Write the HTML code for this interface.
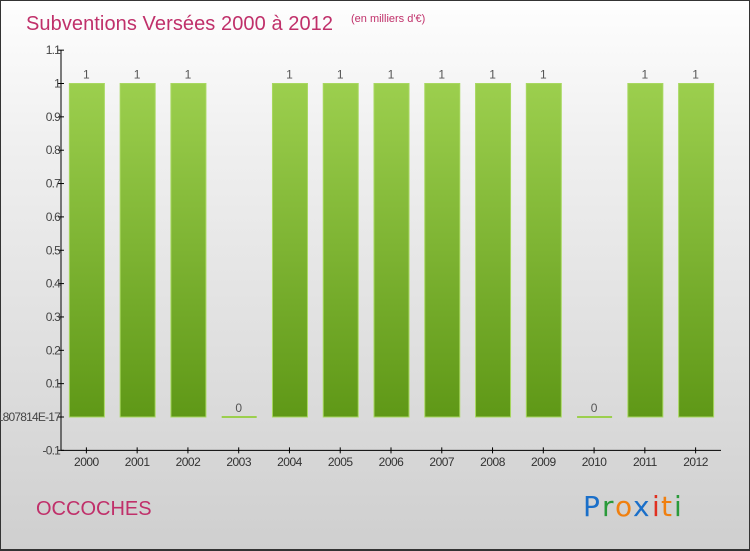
<!DOCTYPE html>
<html><head><meta charset="utf-8"><style>
body{margin:0;width:750px;height:550px;overflow:hidden;font-family:"Liberation Sans",sans-serif}
#c{position:absolute;left:0;top:0;width:748px;height:548px;border:1px solid #333;border-right:2px solid #333;border-bottom:2px solid #333;background:linear-gradient(#fefefe,#f0f0f0 25%,#d8d8d8 80%,#cfcfcf)}
</style></head><body>
<div id="c"></div>
<svg id="s" width="750" height="550" style="position:absolute;left:0;top:0">
<defs><linearGradient id="g" x1="0" y1="0" x2="0" y2="1"><stop offset="0" stop-color="#9ccf4e"/><stop offset="1" stop-color="#5f9817"/></linearGradient></defs>
<text x="26" y="30" font-size="20" fill="#c0306a" textLength="307">Subventions Versées 2000 à 2012</text>
<text x="351" y="22" font-size="11" fill="#c0306a">(en milliers d'€)</text>
<text x="36" y="515" font-size="20" fill="#c0306a">OCCOCHES</text>
<g font-size="28" font-family="'DejaVu Sans',sans-serif">
<text x="583" y="516" fill="#1a6fc9">P</text><text x="602" y="516" fill="#2a9a3a">r</text><text x="615" y="516" fill="#f08010">o</text><text x="633" y="516" fill="#1a6fc9">x</text><text x="652" y="516" fill="#e03020">i</text><text x="661" y="516" fill="#f08010">t</text><text x="674" y="516" fill="#2a9a3a">i</text></g>
<g id="ax"></g><g id="bars"></g>
</svg>
<script>
const years=["2000","2001","2002","2003","2004","2005","2006","2007","2008","2009","2010","2011","2012"];
const values=[1,1,1,0,1,1,1,1,1,1,0,1,1];
const yTicks=[-0.1,0,0.1,0.2,0.3,0.4,0.5,0.6,0.7,0.8,0.9,1,1.1];
const yTickLabels=["-0.1","2.0816681711807814E-17","0.1","0.2","0.3","0.4","0.5","0.6","0.7","0.8","0.9","1","1.1"];
const NS="http://www.w3.org/2000/svg";
const x0=61,x1=721,slot=(x1-x0)/years.length;
function y(v){return 417-v*333.5;}
function xc(i){return x0+slot*(i+0.5);}
function mk(t,a,p){const e=document.createElementNS(NS,t);for(const k in a)e.setAttribute(k,a[k]);p.appendChild(e);return e;}
const ax=document.getElementById('ax'),bg=document.getElementById('bars');
let l=mk('line',{x1:x0,y1:y(1.1),x2:x0,y2:y(-0.1),stroke:'#000'},ax);


l=mk('line',{x1:x0,y1:y(-0.1),x2:x1,y2:y(-0.1),stroke:'#000'},ax);


yTicks.forEach((v,i)=>{
 mk('line',{x1:x0-3,y1:y(v),x2:x0+3,y2:y(v),stroke:'#000'},ax);
 const t=mk('text',{x:x0-1,y:y(v)+4,'font-size':12,fill:'#444','text-anchor':'end','letter-spacing':'-0.8'},ax);
 t.textContent=yTickLabels[i];
 
 
});
years.forEach((yr,i)=>{
 const c=xc(i);
 mk('line',{x1:c,y1:y(-0.1)-3,x2:c,y2:y(-0.1)+3,stroke:'#000'},ax);
 const t=mk('text',{x:c,y:466,'font-size':12,fill:'#333','text-anchor':'middle','letter-spacing':'-0.5'},ax);
 t.textContent=yr;
 
 
 const v=values[i],top=y(v),h=Math.max(y(0)-top,2);
 const r=mk('rect',{x:c-17,y:v>0?top:y(0)-1,width:35,height:h,fill:v>0?'url(#g)':'#9ccf4e',stroke:'#a8d860','stroke-width':v>0?1:0},bg);
 
 
 const lb=mk('text',{x:c,y:top-5,'font-size':12,fill:'#555','text-anchor':'middle'},bg);
 lb.textContent=String(v);
 
 
});
</script>
</body></html>
